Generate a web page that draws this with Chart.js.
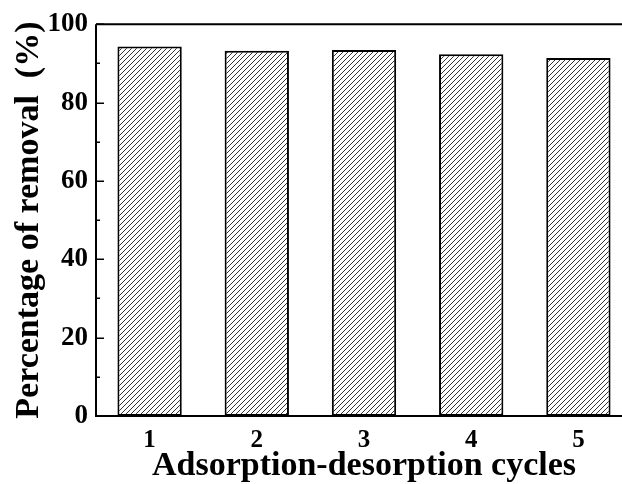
<!DOCTYPE html>
<html><head><meta charset="utf-8">
<script src="https://cdn.jsdelivr.net/npm/chart.js@4.4.0/dist/chart.umd.min.js"></script>
<style>
html,body{margin:0;padding:0;background:#fff;overflow:hidden;}
#wrap{width:622px;height:484px;overflow:hidden;position:relative;}
canvas{display:block;}
</style></head>
<body><div id="wrap"><canvas id="c" width="640" height="484"></canvas></div>
<script>
const categories = ['1', '2', '3', '4', '5'];
const removal = [94.3, 93.2, 93.4, 92.3, 91.4];
const yMajorTicks = [0, 20, 40, 60, 80, 100];
const yMinorTicks = [10, 30, 50, 70, 90];
const xTitle = 'Adsorption-desorption cycles';
const yTitle = 'Percentage of removal  (%)';

const FONT = '"Liberation Serif", "Times New Roman", serif';
const canvas = document.getElementById('c');
const ctx0 = canvas.getContext('2d');

function makeHatch() {
  const s = 5;
  const p = document.createElement('canvas');
  p.width = s; p.height = s;
  const g = p.getContext('2d');
  g.fillStyle = '#fff';
  g.fillRect(0, 0, s, s);
  g.strokeStyle = '#333';
  g.lineWidth = 1;
  g.beginPath();
  g.moveTo(-1, s + 1); g.lineTo(s + 1, -1);
  g.moveTo(-1, 1); g.lineTo(1, -1);
  g.moveTo(s - 1, s + 1); g.lineTo(s + 1, s - 1);
  g.stroke();
  return ctx0.createPattern(p, 'repeat');
}

const framePlugin = {
  id: 'frame',
  afterDraw(chart) {
    const {ctx, chartArea: a, scales: {y}} = chart;
    ctx.save();
    ctx.strokeStyle = '#000';
    ctx.lineWidth = 2;
    ctx.beginPath();
    ctx.moveTo(a.left, a.top); ctx.lineTo(a.right, a.top); ctx.lineTo(a.right, a.bottom);
    ctx.moveTo(a.left, a.top); ctx.lineTo(a.left, a.bottom); ctx.lineTo(a.right, a.bottom);
    ctx.stroke();
    ctx.lineWidth = 1.5;
    ctx.beginPath();
    yMajorTicks.forEach(v => {
      const py = Math.round(y.getPixelForValue(v)) + 0.25;
      ctx.moveTo(a.left, py); ctx.lineTo(a.left + 8, py);
    });
    yMinorTicks.forEach(v => {
      const py = Math.round(y.getPixelForValue(v)) + 0.25;
      ctx.moveTo(a.left, py); ctx.lineTo(a.left + 4, py);
    });
    ctx.stroke();
    ctx.restore();
  }
};

new Chart(canvas, {
  type: 'bar',
  data: {
    labels: categories,
    datasets: [{
      data: removal,
      backgroundColor: makeHatch(),
      borderColor: '#000',
      borderWidth: 2,
      borderSkipped: false,
      barPercentage: 0.6,
      categoryPercentage: 1.0
    }]
  },
  options: {
    responsive: false,
    animation: false,
    devicePixelRatio: 1,
    layout: {padding: {top: 23, right: 8, left: 0, bottom: 0}},
    plugins: {legend: {display: false}, tooltip: {enabled: false}},
    scales: {
      x: {
        grid: {display: false, drawTicks: false},
        border: {display: false},
        ticks: {color: '#000', font: {family: FONT, size: 25, weight: 'bold'}, padding: 10},
        title: {display: true, text: xTitle, color: '#000',
          font: {family: FONT, size: 34, weight: 'bold', lineHeight: 1},
          padding: {top: 0, bottom: 1}},
        afterFit(s) { s.height = 68; }
      },
      y: {
        min: 0, max: 100,
        grid: {display: false, drawTicks: false},
        border: {display: false},
        ticks: {stepSize: 20, color: '#000', font: {family: FONT, size: 27, weight: 'bold'}, padding: 8},
        title: {display: true, text: yTitle, color: '#000',
          font: {family: FONT, size: 34, weight: 'bold'},
          padding: {top: 9, bottom: 0}},
        afterFit(s) { s.width = 96; }
      }
    }
  },
  plugins: [framePlugin]
});
</script>
</body></html>
